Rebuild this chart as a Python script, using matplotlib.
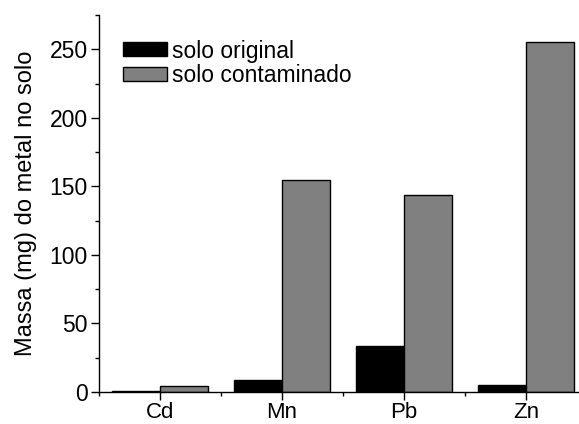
import numpy as np
import matplotlib.pyplot as plt
from matplotlib.ticker import MultipleLocator, FixedLocator

plt.rcParams['font.family'] = ['Liberation Sans', 'DejaVu Sans']

metals = ['Cd', 'Mn', 'Pb', 'Zn']
original = [0.8, 8.7, 33.5, 5.0]
contaminado = [4.4, 154.5, 143.6, 255.0]

fig = plt.figure(figsize=(5.79, 4.24), dpi=100)
# axes: left spine at x=99, bottom at y=392, top at y=15; right beyond the figure edge
ax = fig.add_axes([99 / 579, (424 - 392) / 424, 488 / 579, 377 / 424])

x = np.arange(1, len(metals) + 1)
w = 0.393
ax.bar(x - w / 2, original, w, color='black', edgecolor='black', linewidth=1,
       label='solo original')
ax.bar(x + w / 2, contaminado, w, color='#808080', edgecolor='black', linewidth=1,
       label='solo contaminado')

ax.set_xlim(0.5, 4.5)
ax.set_ylim(0, 275)
ax.set_xticks(x)
ax.set_xticklabels(metals)
ax.xaxis.set_minor_locator(FixedLocator([0.5, 1.5, 2.5, 3.5, 4.5]))
ax.yaxis.set_major_locator(MultipleLocator(50))
ax.yaxis.set_minor_locator(MultipleLocator(25))

for s in ['top', 'right']:
    ax.spines[s].set_visible(False)
ax.spines['left'].set_linewidth(1)
ax.spines['bottom'].set_linewidth(1)

ax.tick_params(axis='both', which='major', direction='out', length=6, width=1,
               labelsize=16.5, colors='black')
ax.tick_params(axis='both', which='minor', direction='out', length=3, width=1)
ax.tick_params(axis='x', pad=1, labelsize=16)
ax.tick_params(axis='y', pad=2)

ax.set_ylabel('Massa (mg) do metal no solo', fontsize=17, labelpad=9)

ax.legend(loc='upper left', bbox_to_anchor=(0.05, 0.935), frameon=False,
          fontsize=16.5, handlelength=1.9, handleheight=0.55, handletextpad=0.2,
          labelspacing=0.08, borderaxespad=0, borderpad=0)

fig.savefig('out.png', dpi=100)
